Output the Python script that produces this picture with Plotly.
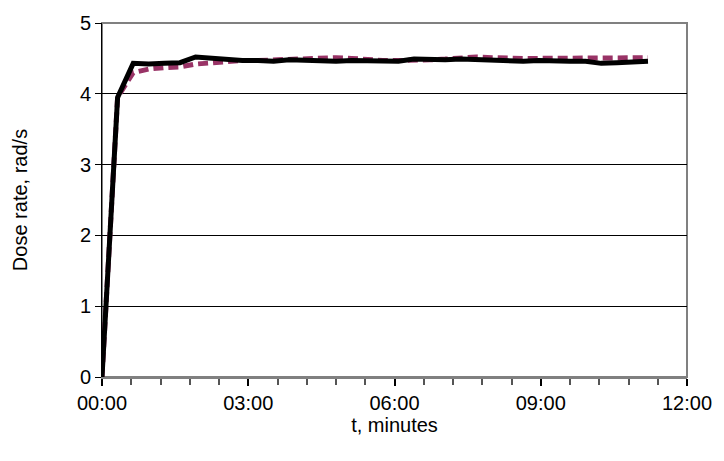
import plotly.graph_objects as go

# Sample times in minutes
t_min = [0.00, 0.32, 0.64, 0.96, 1.28, 1.60, 1.92, 2.24, 2.56, 2.88,
         3.20, 3.52, 3.84, 4.16, 4.48, 4.80, 5.12, 5.44, 5.76, 6.08,
         6.40, 6.72, 7.04, 7.36, 7.68, 8.00, 8.32, 8.64, 8.96, 9.28,
         9.60, 9.92, 10.24, 10.56, 10.88, 11.20]

# Measured dose rate (solid black)
dose_measured = [0.00, 3.95, 4.43, 4.42, 4.43, 4.44, 4.52, 4.50, 4.48, 4.47,
                 4.47, 4.46, 4.48, 4.47, 4.47, 4.46, 4.47, 4.47, 4.46, 4.46,
                 4.49, 4.48, 4.48, 4.49, 4.48, 4.47, 4.47, 4.46, 4.47, 4.46,
                 4.46, 4.46, 4.43, 4.44, 4.45, 4.46]

# Reference dose rate (dashed plum)
dose_reference = [0.00, 3.95, 4.30, 4.35, 4.37, 4.38, 4.42, 4.44, 4.46, 4.47,
                  4.47, 4.48, 4.49, 4.50, 4.50, 4.51, 4.50, 4.48, 4.47, 4.47,
                  4.47, 4.48, 4.49, 4.51, 4.52, 4.51, 4.50, 4.50, 4.50, 4.50,
                  4.50, 4.50, 4.50, 4.51, 4.51, 4.51]

x_tick_vals = [0, 3, 6, 9, 12]
x_tick_text = ["00:00", "03:00", "06:00", "09:00", "12:00"]

FONT = "Liberation Sans, Arial, sans-serif"

fig = go.Figure()
fig.add_trace(go.Scatter(
    x=t_min, y=dose_reference, mode="lines",
    line=dict(color="#993366", width=5, dash="10px,5px"),
    showlegend=False,
))
fig.add_trace(go.Scatter(
    x=t_min, y=dose_measured, mode="lines",
    line=dict(color="#000000", width=5),
    showlegend=False,
))

# Plot-area frame
fig.add_shape(type="rect", xref="paper", yref="paper", x0=0, y0=0, x1=1, y1=1,
              line=dict(color="#808080", width=2), layer="below")

fig.update_layout(
    width=724, height=461,
    margin=dict(l=102, r=35, t=19, b=84),
    paper_bgcolor="white", plot_bgcolor="white",
    font=dict(family=FONT, size=20, color="black"),
)
fig.update_xaxes(
    range=[0, 12], tickvals=x_tick_vals, ticktext=x_tick_text,
    showgrid=False, zeroline=False,
    showline=True, linecolor="#808080", linewidth=2,
    ticks="outside", ticklen=7, tickwidth=2, tickcolor="black",
    minor=dict(dtick=0.6, tick0=0, ticks="outside", ticklen=6, tickwidth=2,
               tickcolor="#555555", showgrid=False),
    title=dict(text="t, minutes", standoff=4, font=dict(size=20)),
    tickfont=dict(size=20),
)
fig.update_yaxes(
    range=[0, 5], dtick=1, tick0=0,
    showgrid=True, gridcolor="#000000", gridwidth=1, zeroline=False,
    showline=True, linecolor="#000000", linewidth=1,
    ticks="outside", ticklen=6, tickwidth=1, tickcolor="black",
    title=dict(text="Dose rate, rad/s", standoff=46, font=dict(size=20)),
    tickfont=dict(size=20),
)

fig.write_html("out.html")
